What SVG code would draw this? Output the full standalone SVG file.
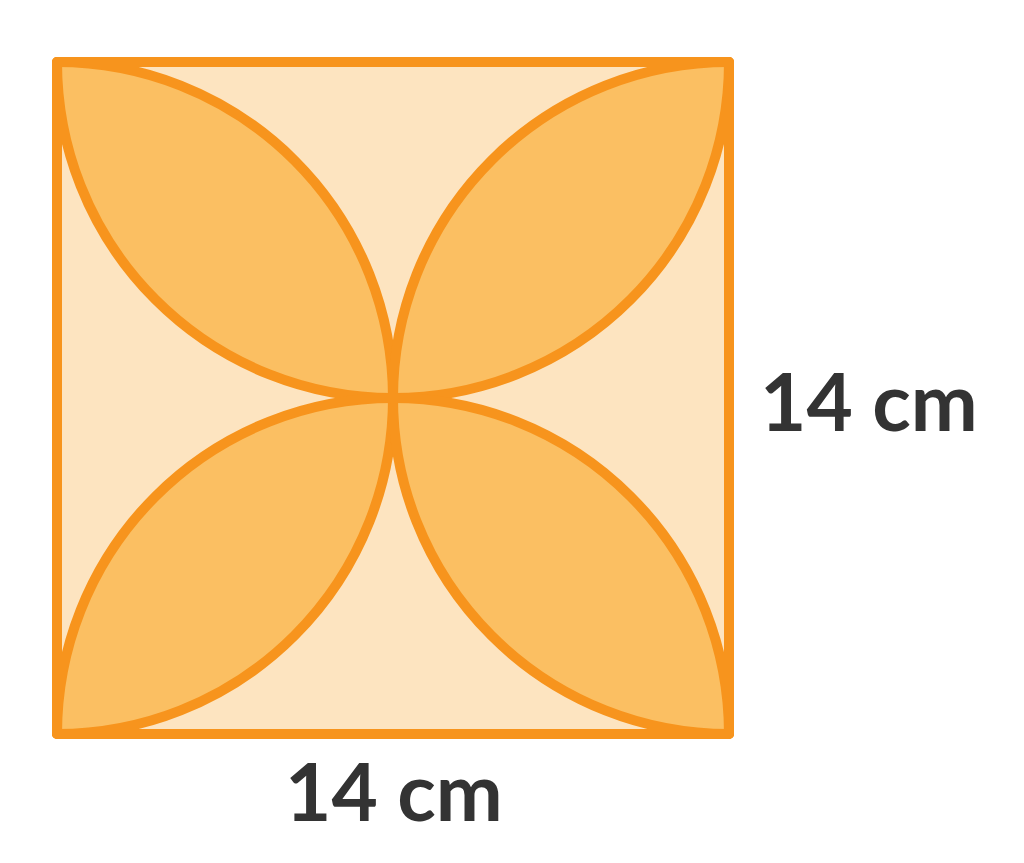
<svg xmlns="http://www.w3.org/2000/svg" width="1024" height="863" viewBox="0 0 1024 863">
<style>
.bg{fill:#FDE4C0}
.petal{fill:#FBBF62}
.ln{fill:none;stroke:#F7941D;stroke-width:10;stroke-linejoin:round;stroke-linecap:round}
.lbl{font-family:Lato,"Open Sans",sans-serif;font-weight:700;font-size:80px;fill:#333333}
</style>
<g id="square">
<rect class="bg" x="57" y="62" width="672" height="672"/>
</g>
<g id="petals">
<path class="petal" d="M57,62 A336,336 0 0 1 393,398 A336,336 0 0 1 57,62 Z"/>
<path class="petal" d="M729,62 A336,336 0 0 0 393,398 A336,336 0 0 0 729,62 Z"/>
<path class="petal" d="M57,734 A336,336 0 0 0 393,398 A336,336 0 0 0 57,734 Z"/>
<path class="petal" d="M729,734 A336,336 0 0 1 393,398 A336,336 0 0 1 729,734 Z"/>
</g>
<g id="outlines">
<path class="ln" d="M57,62 A336,336 0 0 1 57,734"/>
<path class="ln" d="M57,62 A336,336 0 0 0 729,62"/>
<path class="ln" d="M729,62 A336,336 0 0 0 729,734"/>
<path class="ln" d="M57,734 A336,336 0 0 1 729,734"/>
<rect class="ln" x="57" y="62" width="672" height="672"/>
</g>
<g id="labels">
<text class="lbl" x="760" y="431">14 cm</text>
<text class="lbl" x="285" y="821">14 cm</text>
</g>
</svg>
